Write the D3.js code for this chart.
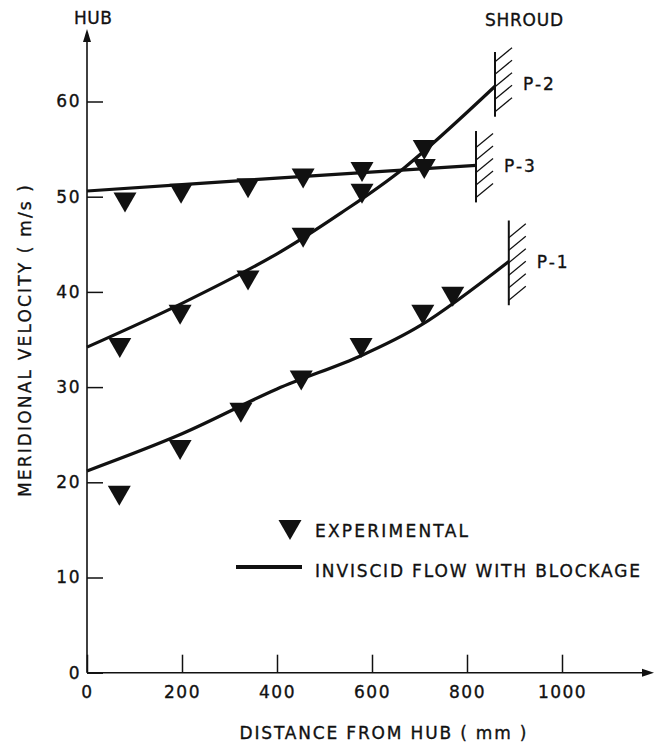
<!DOCTYPE html>
<html>
<head>
<meta charset="utf-8">
<script src="https://cdn.jsdelivr.net/npm/d3@7"></script>
<style>
  body { margin: 0; background: #fff; }
  text { font-family: "DejaVu Sans", sans-serif; fill: #111; stroke: #111; stroke-width: 0.35px; }
</style>
</head>
<body>
<div id="chart"></div>
<script>
// experimental points [distance mm, velocity m/s]
const p1Exp = [[68,18.6],[196,23.4],[324,27.3],[451,30.7],[577,34.1],[707,37.6],[770,39.5]];
const p2Exp = [[69,34.1],[196,37.6],[339,41.2],[455,45.7],[579,50.3],[710,54.9]];
const p3Exp = [[80,49.4],[198,50.3],[339,50.9],[455,51.9],[579,52.6],[710,52.9]];

// inviscid flow with blockage
const p1Line = [[0,21.2],[200,25.1],[400,29.8],[577,33.3],[703,36.5],[888,43.2]];
const p2Line = [[0,34.2],[200,38.8],[400,44.0],[535,48.3],[667,53.0],[859,61.6]];
const p3Line = [[0,50.6],[400,51.95],[819,53.3]];

// shroud walls: name, x, y bottom, y top
const walls = [
  {name: "P-2", x: 859, y0: 58.4, y1: 65.2, ly: 61.8},
  {name: "P-3", x: 819, y0: 49.4, y1: 56.9, ly: 53.2},
  {name: "P-1", x: 888, y0: 38.6, y1: 47.5, ly: 43.1}
];

const xTicks = [0, 200, 400, 600, 800, 1000];
const yTicks = [0, 10, 20, 30, 40, 50, 60];

const W = 657, H = 745;
const svg = d3.select("#chart").append("svg")
  .attr("width", W).attr("height", H);

const x = d3.scaleLinear().domain([0, 1000]).range([87, 562]);
const y = d3.scaleLinear().domain([0, 60]).range([672.7, 101.5]);

// axes
const gx = svg.append("g")
  .attr("transform", `translate(0, ${y(0)})`)
  .call(d3.axisBottom(x).tickValues(xTicks).tickFormat(d3.format("d"))
    .tickSizeInner(-18).tickSizeOuter(0).tickPadding(13));
gx.select(".domain").remove();
gx.selectAll("line").attr("stroke", "#111").attr("stroke-width", 1.5);
gx.selectAll("text").style("font-size", "17px").attr("letter-spacing", "1.5px").attr("fill", "#111");

const gy = svg.append("g")
  .attr("transform", `translate(${x(0)}, 0)`)
  .call(d3.axisLeft(y).tickValues(yTicks).tickSizeInner(-16).tickSizeOuter(0).tickPadding(6));
gy.select(".domain").remove();
gy.selectAll("line").attr("stroke", "#111").attr("stroke-width", 1.5);
gy.selectAll("text").style("font-size", "17px").attr("letter-spacing", "1.5px").attr("fill", "#111");

// axis lines with arrows
svg.append("line")
  .attr("x1", x(0)).attr("y1", y(0)).attr("x2", 646).attr("y2", y(0))
  .attr("stroke", "#111").attr("stroke-width", 1.6);
svg.append("path")
  .attr("d", `M654,${y(0)} L642,${y(0) - 4} L642,${y(0) + 4} Z`)
  .attr("fill", "#111");
svg.append("line")
  .attr("x1", x(0)).attr("y1", y(0)).attr("x2", x(0)).attr("y2", 38)
  .attr("stroke", "#111").attr("stroke-width", 1.6);
svg.append("path")
  .attr("d", `M${x(0)},29 L${x(0) - 4},42 L${x(0) + 4},42 Z`)
  .attr("fill", "#111");

// curves
const line = d3.line()
  .x(d => x(d[0]))
  .y(d => y(d[1]))
  .curve(d3.curveCatmullRom.alpha(0.5));

[p1Line, p2Line, p3Line].forEach(s => {
  svg.append("path")
    .datum(s)
    .attr("d", line)
    .attr("fill", "none")
    .attr("stroke", "#111")
    .attr("stroke-width", 3.2);
});

// triangles
const tri = "M-11.5,-10 L11.5,-10 L0,10 Z";
svg.selectAll("path.exp")
  .data(p1Exp.concat(p2Exp, p3Exp))
  .enter()
  .append("path")
    .attr("class", "exp")
    .attr("d", tri)
    .attr("transform", d => `translate(${x(d[0])}, ${y(d[1])})`)
    .attr("fill", "#111");

// shroud walls with hatching
walls.forEach(w => {
  const wx = x(w.x), top = y(w.y1), bot = y(w.y0);
  svg.append("line")
    .attr("x1", wx).attr("y1", top).attr("x2", wx).attr("y2", bot)
    .attr("stroke", "#111").attr("stroke-width", 2);
  for (let yy = bot - 5; yy > top + 6; yy -= 12.5) {
    svg.append("line")
      .attr("x1", wx).attr("y1", yy).attr("x2", wx + 17).attr("y2", yy - 14)
      .attr("stroke", "#111").attr("stroke-width", 1.2);
  }
  svg.append("text")
    .attr("x", wx + 28).attr("y", y(w.ly) + 6)
    .attr("letter-spacing", "2px")
    .style("font-size", "17px")
    .text(w.name);
});

// labels
function label(t, cx, cy, len, anchor) {
  return svg.append("text")
    .attr("x", cx).attr("y", cy + 6)
    .attr("text-anchor", anchor || "middle")
    .attr("textLength", len)
    .attr("lengthAdjust", "spacing")
    .style("font-size", "17px")
    .text(t);
}
label("HUB", 93, 17.5, 38);
label("SHROUD", 524, 19.5, 78);
label("DISTANCE FROM HUB ( mm )", 383, 733, 287);
label("MERIDIONAL VELOCITY ( m/s )", 0, 0, 312)
  .attr("transform", "translate(25, 341) rotate(-90)");

// legend
svg.append("path")
  .attr("d", tri)
  .attr("transform", "translate(290, 530)")
  .attr("fill", "#111");
label("EXPERIMENTAL", 315, 531, 153, "start");
svg.append("line")
  .attr("x1", 236).attr("y1", 567).attr("x2", 302).attr("y2", 567)
  .attr("stroke", "#111").attr("stroke-width", 4);
label("INVISCID FLOW WITH BLOCKAGE", 315, 571, 325, "start");
</script>
</body>
</html>
